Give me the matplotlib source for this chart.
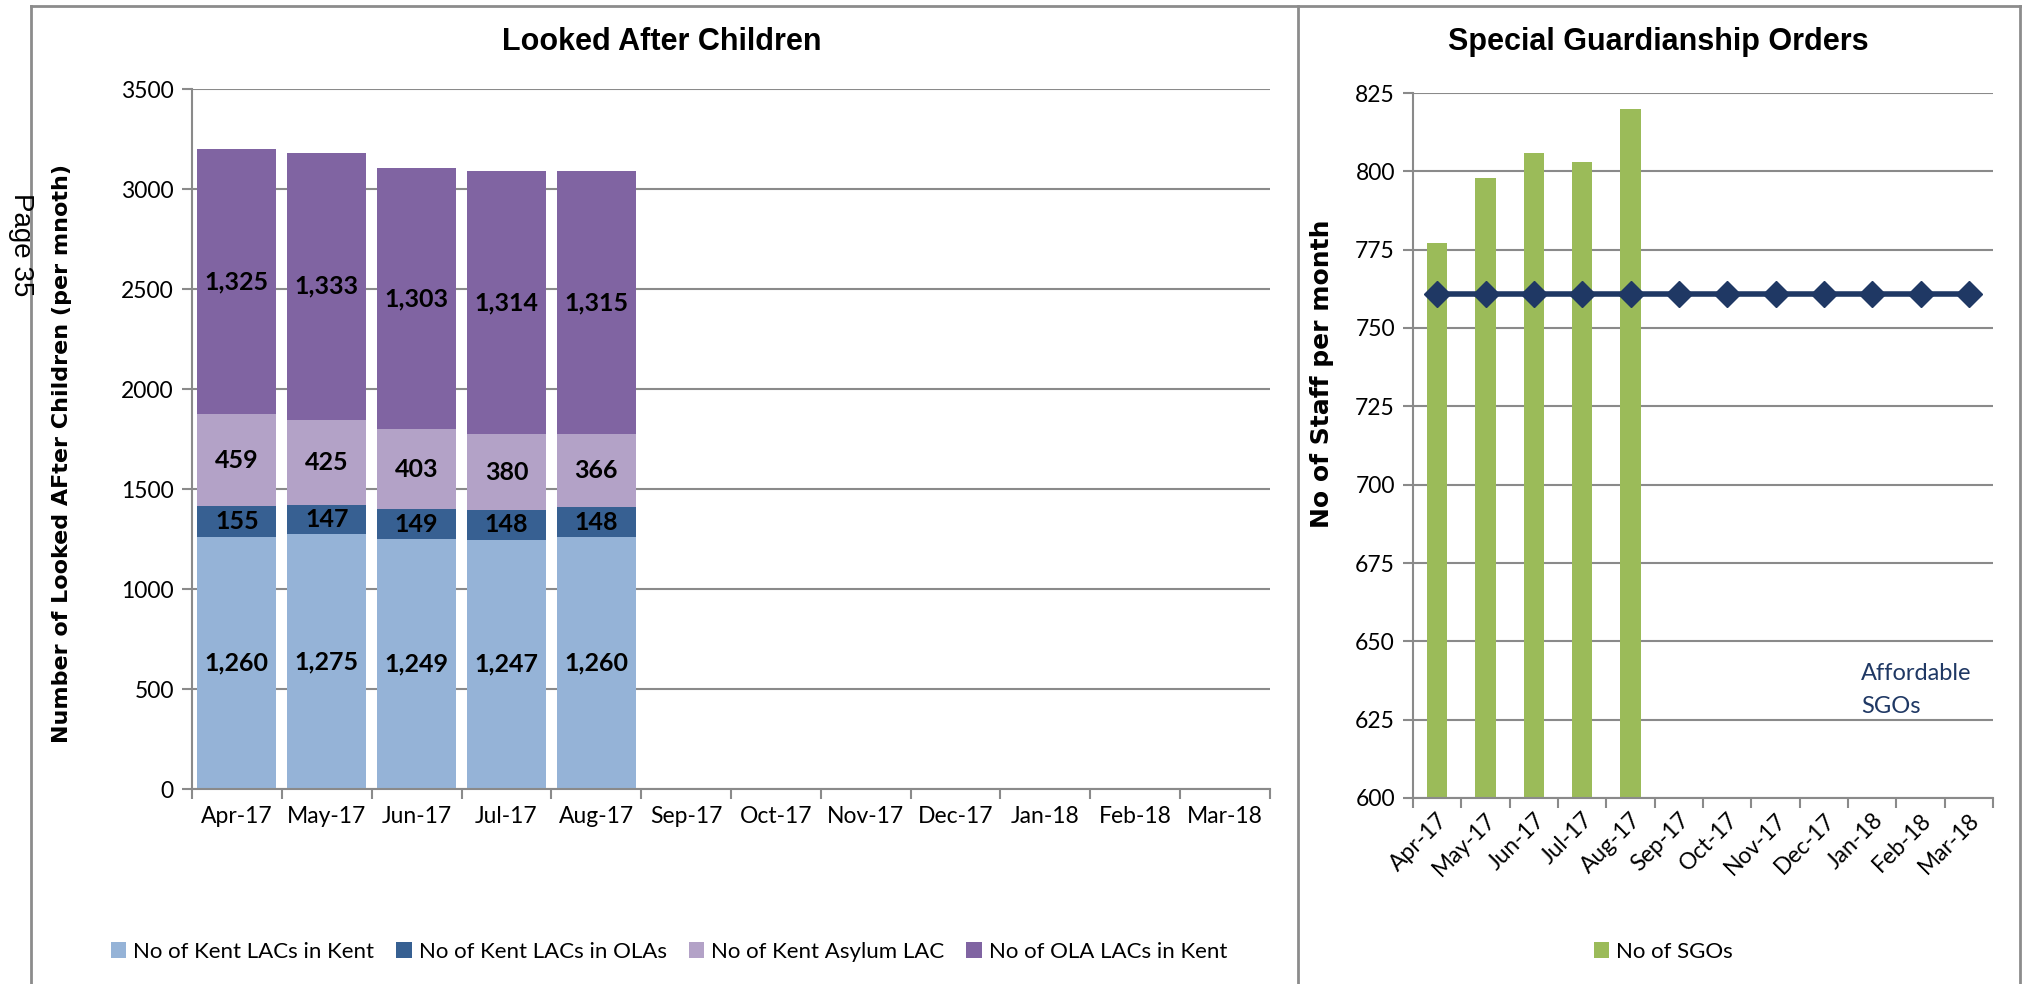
import matplotlib
matplotlib.use("Agg")
import matplotlib.pyplot as plt
from matplotlib.lines import Line2D
import numpy as np

months = ["Apr-17", "May-17", "Jun-17", "Jul-17", "Aug-17", "Sep-17",
          "Oct-17", "Nov-17", "Dec-17", "Jan-18", "Feb-18", "Mar-18"]

# Looked after children, stacked (Apr-Aug reported so far)
kent_in_kent = [1260, 1275, 1249, 1247, 1260]
kent_in_olas = [155, 147, 149, 148, 148]
kent_asylum = [459, 425, 403, 380, 366]
ola_in_kent = [1325, 1333, 1303, 1314, 1315]
lac_series = ["No of Kent LACs in Kent", "No of Kent LACs in OLAs",
              "No of Kent Asylum LAC", "No of OLA LACs in Kent"]
lac_colors = ["#95B3D7", "#376092", "#B3A2C7", "#8064A2"]

# Special guardianship orders
sgo_counts = [777, 798, 806, 803, 820]
affordable_sgos = [761] * 12

GRID = "#8a8a8a"
TICK_FONT = "Lato"

fig = plt.figure(figsize=(20.22, 9.84), dpi=100)

# panel frames
for x0, y0, x1, y1 in [(31, 6, 2021, 6), (31, 6, 31, 984), (1298, 6, 1298, 984),
                       (2020, 6, 2020, 984)]:
    fig.add_artist(Line2D([x0 / 2022, x1 / 2022], [1 - y0 / 984, 1 - y1 / 984],
                          color="#8c8c8c", lw=2))


def style_axes(ax, n):
    ax.set_xlim(-0.5, n - 0.5)
    ax.grid(axis="y", color=GRID, lw=1.5)
    ax.set_axisbelow(True)
    for s in ["top", "right"]:
        ax.spines[s].set_visible(False)
    for s in ["left", "bottom"]:
        ax.spines[s].set_color(GRID)
        ax.spines[s].set_linewidth(1.5)
    ax.set_xticks(np.arange(-0.5, n), minor=True)
    ax.tick_params(axis="x", which="major", length=0, pad=12)
    ax.tick_params(axis="x", which="minor", length=7, color=GRID, width=1.5)
    ax.tick_params(axis="y", length=7, color=GRID, width=1.5, pad=6)
    for lab in ax.get_xticklabels() + ax.get_yticklabels():
        lab.set_fontfamily(TICK_FONT)
        lab.set_fontsize(16.5)


# ---- Looked After Children ----
ax1 = fig.add_axes([192 / 2022, 1 - 789 / 984, 1078 / 2022, 700 / 984])
x = np.arange(len(kent_in_kent))
bottom = np.zeros(len(x))
for vals, name, col in zip([kent_in_kent, kent_in_olas, kent_asylum, ola_in_kent],
                           lac_series, lac_colors):
    vals = np.array(vals)
    ax1.bar(x, vals, 0.88, bottom=bottom, color=col, label=name)
    for xi, b, v in zip(x, bottom, vals):
        ax1.text(xi, b + v / 2, f"{v:,}", ha="center", va="center",
                 fontsize=18, fontweight="bold", family=TICK_FONT)
    bottom += vals
ax1.set_ylim(0, 3500)
ax1.set_yticks(range(0, 3501, 500))
ax1.set_xticks(range(len(months)))
ax1.set_xticklabels(months)
style_axes(ax1, len(months))
ax1.legend(loc="center", bbox_to_anchor=(669 / 2022, 1 - 952 / 984),
           bbox_transform=fig.transFigure, ncol=4, frameon=False,
           prop={"family": TICK_FONT, "size": 16}, handlelength=0.7,
           handleheight=0.7, handletextpad=0.3, columnspacing=1.0)
fig.text(662 / 2022, 1 - 42 / 984, "Looked After Children", ha="center", va="center",
         fontsize=22, fontweight="bold", family="Liberation Sans")
fig.text(62 / 2022, 1 - 453 / 984, "Number of Looked AFter Children (per mnoth)",
         rotation=90, ha="center", va="center", fontsize=16, fontweight="bold")

# ---- Special Guardianship Orders ----
ax2 = fig.add_axes([1413 / 2022, 1 - 798 / 984, 580 / 2022, 705 / 984])
ax2.bar(np.arange(len(sgo_counts)), sgo_counts, 0.42, color="#9BBB59",
        label="No of SGOs")
ax2.plot(np.arange(len(months)), affordable_sgos, color="#1F3864", lw=4,
         marker="D", markersize=13)
ax2.set_ylim(600, 825)
ax2.set_yticks(range(600, 826, 25))
ax2.set_xticks(range(len(months)))
ax2.set_xticklabels(months, rotation=45, ha="right", rotation_mode="anchor")
style_axes(ax2, len(months))
ax2.tick_params(axis="x", which="major", pad=8)
ax2.text(8.77, 643, "Affordable\nSGOs", color="#1F3864", fontsize=17,
         family=TICK_FONT, ha="left", va="top", linespacing=1.7)
ax2.legend(loc="center", bbox_to_anchor=(1663 / 2022, 1 - 952 / 984),
           bbox_transform=fig.transFigure, frameon=False,
           prop={"family": TICK_FONT, "size": 16}, handlelength=0.7,
           handleheight=0.7, handletextpad=0.3)
fig.text(1658 / 2022, 1 - 42 / 984, "Special Guardianship Orders", ha="center",
         va="center", fontsize=22, fontweight="bold", family="Liberation Sans")
fig.text(1322 / 2022, 1 - 374 / 984, "No of Staff per month", rotation=90,
         ha="center", va="center", fontsize=18, fontweight="bold")

fig.text(21 / 2022, 1 - 245 / 984, "Page 35", rotation=-90, ha="center",
         va="center", fontsize=20, family="Liberation Sans")

fig.savefig("out.png", dpi=100)
